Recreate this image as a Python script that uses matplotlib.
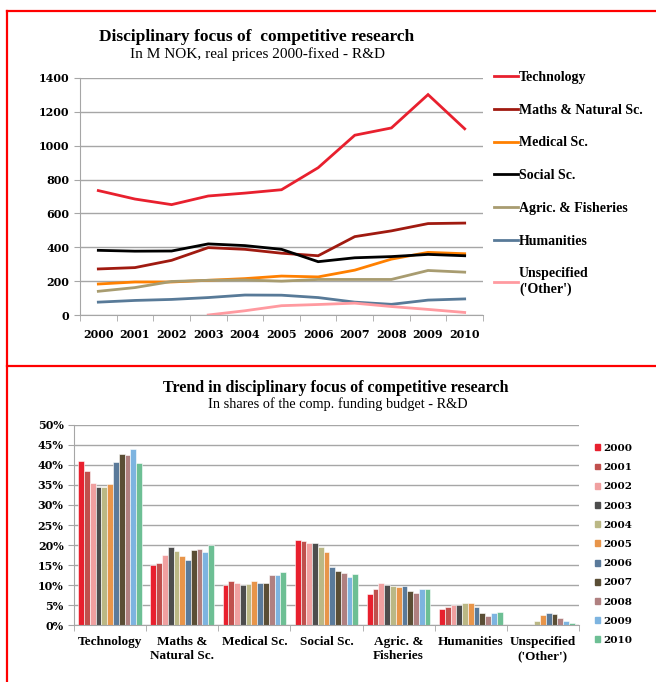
import numpy as np
import matplotlib.pyplot as plt
from matplotlib.lines import Line2D
from matplotlib.patches import Patch
from matplotlib.ticker import FuncFormatter, MultipleLocator

# data
years = [2000, 2001, 2002, 2003, 2004, 2005, 2006, 2007, 2008, 2009, 2010]
fields = ['Technology', 'Maths & Natural Sc.', 'Medical Sc.', 'Social Sc.',
          'Agric. & Fisheries', 'Humanities', "Unspecified\n('Other')"]
bar_labels = ['Technology', 'Maths &\nNatural Sc.', 'Medical Sc.', 'Social Sc.',
              'Agric. &\nFisheries', 'Humanities', "Unspecified\n('Other')"]

# M NOK, real prices 2000-fixed
tech_nok = [735, 685, 652, 703, 720, 740, 870, 1062, 1105, 1302, 1100]
maths_nok = [272, 280, 323, 398, 388, 365, 350, 463, 497, 540, 543]
medical_nok = [183, 195, 195, 205, 215, 230, 225, 265, 330, 370, 362]
social_nok = [382, 377, 378, 420, 410, 388, 315, 338, 345, 358, 350]
agric_nok = [140, 162, 198, 205, 207, 200, 210, 210, 210, 263, 253]
human_nok = [76, 86, 92, 103, 118, 117, 103, 76, 63, 88, 95]
other_nok = [np.nan, np.nan, np.nan, 0, 25, 55, 62, 70, 50, 33, 15]

# shares of the comp. funding budget, %
tech_sh = [41.0, 38.4, 35.5, 34.5, 34.6, 35.3, 40.8, 42.8, 42.5, 44.0, 40.5]
maths_sh = [15.0, 15.6, 17.5, 19.4, 18.5, 17.3, 16.3, 18.7, 19.0, 18.2, 19.9]
medical_sh = [10.1, 10.9, 10.4, 9.9, 10.2, 10.9, 10.4, 10.6, 12.5, 12.4, 13.2]
social_sh = [21.2, 21.0, 20.5, 20.6, 19.6, 18.3, 14.6, 13.5, 13.1, 12.0, 12.7]
agric_sh = [7.7, 8.9, 10.6, 9.9, 9.7, 9.4, 9.8, 8.4, 8.0, 8.9, 9.1]
human_sh = [4.1, 4.6, 4.9, 4.9, 5.6, 5.5, 4.6, 2.9, 2.3, 2.9, 3.3]
other_sh = [0, 0, 0, 0, 1.0, 2.6, 2.9, 2.7, 1.8, 1.0, 0.5]

line_colors = ['#E8202E', '#A01A10', '#FF8000', '#000000', '#A89C70', '#587A98', '#FF9AA0']
year_colors = ['#E8202E', '#C0504D', '#F0A0A0', '#4D4D4D', '#BBB885', '#E8954A',
               '#5A7A9A', '#5A4E35', '#B08080', '#7DB4E0', '#6DBF94']

plt.rcParams['font.family'] = 'Liberation Serif'
num_font = 'DejaVu Serif'   # wider digits, closer to the Georgia numerals

W, H = 656, 682
def box(l, t, r, b):
    return [l / W, 1 - b / H, (r - l) / W, (b - t) / H]

fig = plt.figure(figsize=(W / 100, H / 100), dpi=100)

# red panel frames
red = dict(transform=fig.transFigure, color='#FF0000', lw=1.6)
fig.add_artist(Line2D([6.5 / W, 6.5 / W], [0, 1 - 10.5 / H], **red))
fig.add_artist(Line2D([6.5 / W, 1], [1 - 10.5 / H, 1 - 10.5 / H], **red))
fig.add_artist(Line2D([6.5 / W, 1], [1 - 366 / H, 1 - 366 / H], **red))

grid_c = '#A6A6A6'

# ---- top: line chart
ax1 = fig.add_axes(box(80, 78, 483, 315))
x = np.arange(len(years))
series = [tech_nok, maths_nok, medical_nok, social_nok, agric_nok, human_nok, other_nok]
for name, vals, c in zip(fields, series, line_colors):
    ax1.plot(x, vals, color=c, lw=2, label=name, solid_joinstyle='miter')

ax1.set_xlim(-0.5, 10.5)
ax1.set_ylim(0, 1400)
ax1.set_yticks(range(0, 1401, 200))
ax1.set_xticks(x)
ax1.set_xticklabels([str(y) for y in years])
ax1.xaxis.set_minor_locator(MultipleLocator(1, offset=0.5))
ax1.tick_params(axis='x', which='major', length=0, pad=10)
ax1.tick_params(axis='x', which='minor', length=4, color=grid_c)
ax1.tick_params(axis='y', length=4, color=grid_c)
for lab in ax1.get_xticklabels() + ax1.get_yticklabels():
    lab.set_fontweight('bold')
    lab.set_family(num_font)
    lab.set_fontsize(8)
ax1.grid(axis='y', color=grid_c, lw=1)
ax1.set_axisbelow(True)
for s in ['top', 'right']:
    ax1.spines[s].set_visible(False)
for s in ['left', 'bottom']:
    ax1.spines[s].set_color(grid_c)

ax1.legend(loc='upper left', bbox_to_anchor=(494 / W, 1 - 71 / H),
           bbox_transform=fig.transFigure, frameon=False, handlelength=1.7,
           handletextpad=0.1, labelspacing=1.42, borderpad=0, borderaxespad=0,
           prop=dict(weight='bold', size=10))

fig.text(257 / W, 1 - 37 / H, 'Disciplinary focus of  competitive research',
         ha='center', va='center', fontsize=12.5, fontweight='bold')
fig.text(257 / W, 1 - 54 / H, 'In M NOK, real prices 2000-fixed - R&D',
         ha='center', va='center', fontsize=11)

# ---- bottom: grouped bars
ax2 = fig.add_axes(box(74, 425, 579, 625))
shares = np.array([tech_sh, maths_sh, medical_sh, social_sh, agric_sh, human_sh, other_sh])
g = np.arange(len(fields))
bw = 0.08
for i, (yr, c) in enumerate(zip(years, year_colors)):
    ax2.bar(g + (i - 5) * bw, shares[:, i], width=bw, color=c,
            edgecolor='white', lw=0.4, label=str(yr))

ax2.set_xlim(-0.5, 6.5)
ax2.set_ylim(0, 50)
ax2.set_yticks(range(0, 51, 5))
ax2.yaxis.set_major_formatter(FuncFormatter(lambda v, p: f'{int(v)}%'))
ax2.set_xticks(g)
ax2.set_xticklabels(bar_labels)
ax2.xaxis.set_minor_locator(MultipleLocator(1, offset=0.5))
ax2.tick_params(axis='x', which='major', length=0, pad=8, labelsize=9.5)
ax2.tick_params(axis='x', which='minor', length=4, color=grid_c)
ax2.tick_params(axis='y', length=4, color=grid_c)
for lab in ax2.get_xticklabels():
    lab.set_fontweight('bold')
for lab in ax2.get_yticklabels():
    lab.set_fontweight('bold')
    lab.set_family(num_font)
    lab.set_fontsize(8)
ax2.grid(axis='y', color=grid_c, lw=1)
ax2.set_axisbelow(True)
for s in ['top', 'right']:
    ax2.spines[s].set_visible(False)
for s in ['left', 'bottom']:
    ax2.spines[s].set_color(grid_c)

handles = [Patch(color=c) for c in year_colors]
ax2.legend(handles, [str(y) for y in years], loc='upper left',
           bbox_to_anchor=(595 / W, 1 - 444 / H), bbox_transform=fig.transFigure,
           frameon=False, handlelength=0.5, handleheight=0.5, handletextpad=0.3,
           labelspacing=0.98, borderpad=0, borderaxespad=0,
           prop=dict(weight='bold', size=7.5, family=num_font))

fig.text(336 / W, 1 - 388 / H, 'Trend in disciplinary focus of competitive research',
         ha='center', va='center', fontsize=11.5, fontweight='bold')
fig.text(338 / W, 1 - 404 / H, 'In shares of the comp. funding budget - R&D',
         ha='center', va='center', fontsize=10.3)

fig.savefig('out.png', dpi=100)
